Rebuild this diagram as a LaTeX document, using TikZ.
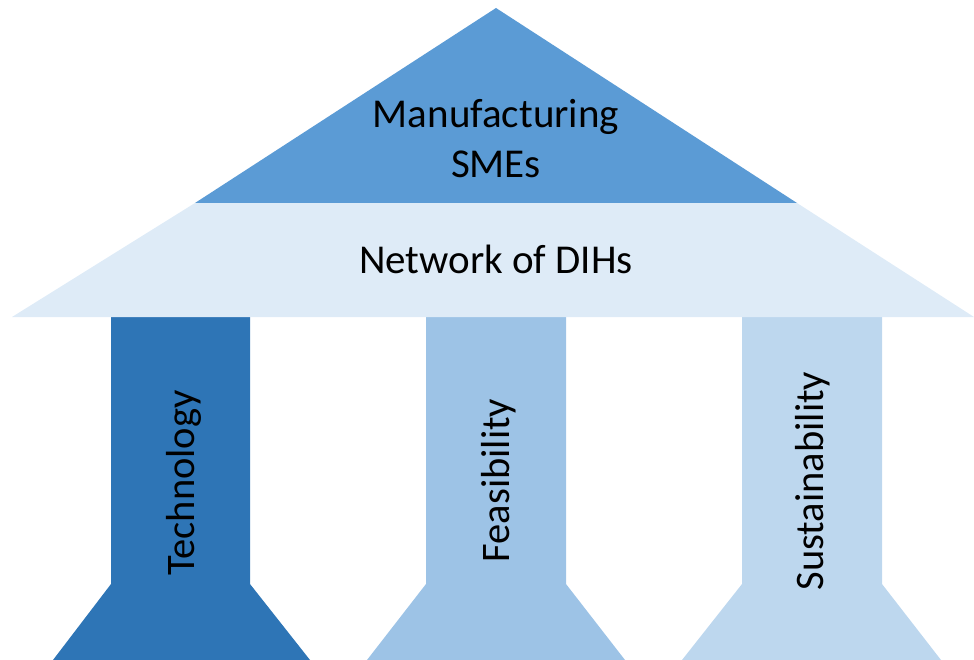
\documentclass[tikz,border=0pt]{standalone}
\usepackage{fontspec}
\setmainfont{Carlito}
\definecolor{roofc}{HTML}{5B9BD5}
\definecolor{bandc}{HTML}{DEEBF7}
\definecolor{techc}{HTML}{2E75B6}
\definecolor{feasc}{HTML}{9DC3E6}
\definecolor{sustc}{HTML}{BDD7EE}
\begin{document}
\begin{tikzpicture}[x=1pt,y=-1pt,
  toplabel/.style={font=\fontsize{41}{50}\selectfont, anchor=base, inner sep=0pt},
  pillarlabel/.style={font=\fontsize{40.5}{48}\selectfont, anchor=base, inner sep=0pt, rotate=90}]
\useasboundingbox (0,0) rectangle (974,660);
% pillars
\fill[techc] (111,317) -- (250,317) -- (250,584) -- (310,660) -- (53,660) -- (111,584) -- cycle;
\fill[feasc] (426,317) -- (566,317) -- (566,584) -- (625,660) -- (367,660) -- (426,584) -- cycle;
\fill[sustc] (742,317) -- (882,317) -- (882,584) -- (941,660) -- (682,660) -- (742,584) -- cycle;
% roof
\fill[bandc] (195,203) -- (797,203) -- (974,317) -- (12,317) -- cycle;
\fill[roofc] (496,8) -- (797,203) -- (195,203) -- cycle;
% labels
\node[toplabel] (sme1) at (496,128) {Manufacturing};
\node[toplabel] (sme2) at (496,178) {SMEs};
\node[toplabel] (dih) at (496,274) {Network of DIHs};
\node[pillarlabel] (tech) at (194,483) {Technology};
\node[pillarlabel] (feas) at (509,480.5) {Feasibility};
\node[pillarlabel] (sust) at (823,481) {Sustainability};
\end{tikzpicture}
\end{document}
